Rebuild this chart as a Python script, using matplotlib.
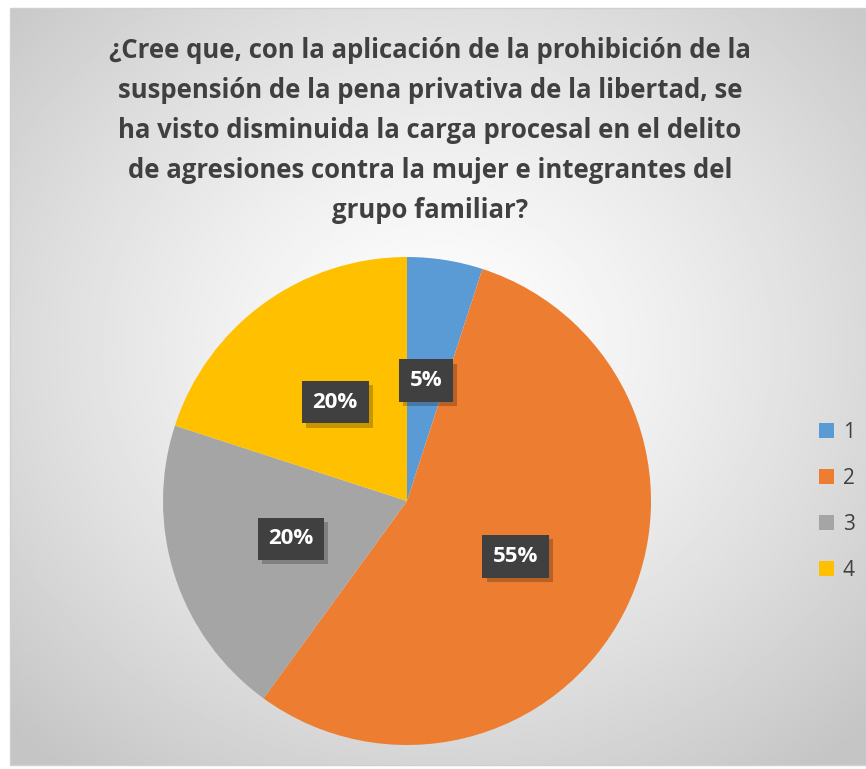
import numpy as np
import matplotlib.pyplot as plt
import matplotlib.patheffects as pe

# %% Data
categories = ['1', '2', '3', '4']
values = [5, 55, 20, 20]
pct_labels = ['5%', '55%', '20%', '20%']
colors = ['#5B9BD5', '#ED7D31', '#A5A5A5', '#FFC000']
title = ('¿Cree que, con la aplicación de la prohibición de la\n'
         'suspensión de la pena privativa de la libertad, se\n'
         'ha visto disminuida la carga procesal en el delito\n'
         'de agresiones contra la mujer e integrantes del\n'
         'grupo familiar?')

W, H = 866, 769
fig = plt.figure(figsize=(W / 100, H / 100), dpi=100)
fig.patch.set_facecolor('white')

# %% Radial gradient background of the chart area
bg = fig.add_axes([10 / W, 4 / H, 856 / W, 757 / H])
yy, xx = np.mgrid[0:1:400j, 0:1:450j]
d = np.sqrt(((xx - 0.5) / 0.75) ** 2 + ((yy - 0.45) / 0.75) ** 2)
d = np.clip(d / 0.95, 0, 1)
shade = 1.0 - 0.23 * d ** 1.3
bg.imshow(shade, cmap='gray', vmin=0, vmax=1, aspect='auto',
          extent=[0, 1, 1, 0], interpolation='bilinear')
bg.set_xlim(0, 1)
bg.set_ylim(1, 0)
bg.axis('off')
fig.add_artist(plt.Rectangle((10 / W, 4 / H), 856 / W, 757 / H,
                             transform=fig.transFigure, fill=False,
                             edgecolor='#d0d0d0', lw=1))

# %% Title
fig.text(430 / W, 1 - 37 / H, title, ha='center', va='top',
         fontsize=18.5, fontweight='bold', color='#404040',
         family='Open Sans', linespacing=1.62)

# %% Pie
ax = fig.add_axes([163 / W, 24 / H, 488 / W, 488 / H])
wedges, texts = ax.pie(values, colors=colors, startangle=90,
                       counterclock=False, radius=1.0,
                       labels=pct_labels, labeldistance=0.5,
                       wedgeprops=dict(linewidth=0))
for t in texts:
    t.set_ha('center')
    t.set_va('center')
    t.set_color('white')
    t.set_fontsize(16)
    t.set_fontweight('bold')
    t.set_family('Open Sans')
    t.set_bbox(dict(boxstyle='square,pad=0.48', facecolor='#404040',
                    edgecolor='none',
                    path_effects=[pe.SimplePatchShadow(offset=(3, -3),
                                                       shadow_rgbFace='#000000',
                                                       alpha=0.22),
                                  pe.Normal()]))
ax.set_xlim(-1, 1)
ax.set_ylim(-1, 1)
ax.set_aspect('equal')

# %% Legend
leg = fig.legend(wedges, categories, loc='center left',
                 bbox_to_anchor=(800 / W, 1 - 501 / H), frameon=False,
                 labelspacing=1.2, handlelength=0.75,
                 handleheight=0.75, handletextpad=0.4,
                 prop=dict(family='Open Sans', size=15))
for txt in leg.get_texts():
    txt.set_color('#404040')

fig.savefig('out.png', dpi=100)
